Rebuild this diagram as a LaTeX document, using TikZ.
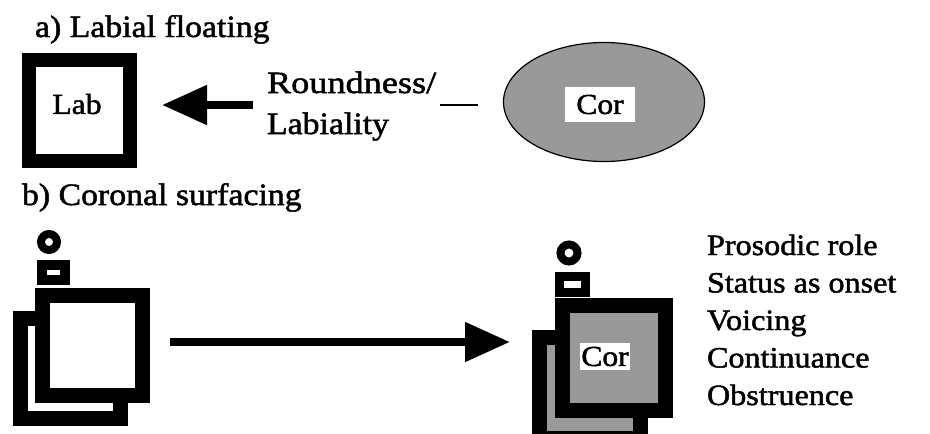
\documentclass[tikz,border=0pt]{standalone}
\usepackage{fontspec}
\setmainfont{Liberation Serif}[FakeStretch=1.09, FakeBold=1.6]
\newfontfamily\widefont{Liberation Serif}[FakeStretch=1.17, FakeBold=1.6]
\usetikzlibrary{arrows.meta,shapes.geometric}
\begin{document}
\begin{tikzpicture}[x=1pt,y=-1pt,
  font=\fontsize{31}{36}\selectfont,
  txt/.style={anchor=base west, inner sep=0pt, outer sep=0pt},
  listtxt/.style={txt, font=\fontsize{29.5}{36}\selectfont},
  lbl/.style={font=\fontsize{29}{36}\selectfont},
  thickbox/.style={draw, line width=15pt, minimum size=100pt, inner sep=0pt},
  stip/.style={fill=black!40},
  minibox/.style={draw, line width=9pt, fill=white, inner sep=0pt},
  ring/.style={circle, draw, line width=8pt, fill=white, minimum size=16pt, inner sep=0pt},
  arr/.style={line width=8pt, -{Triangle[length=45pt,width=38pt]}},
  whitelbl/.style={lbl, fill=white, inner sep=1pt}
]
\useasboundingbox (0,0) rectangle (930,434);

% ---------- a) ----------
\node[txt] (ta) at (35,37) {a) Labial floating};
\node[thickbox, line width=14pt, minimum size=101pt] (lab) at (79.5,110.5) {};
\node[lbl] (labt) at (77,104) {Lab};

\node[ellipse, draw, line width=1.2pt, stip, minimum width=201pt, minimum height=119pt] (ell) at (604,102) {};
\node[whitelbl, minimum width=70pt, minimum height=35pt] (cora) at (600,104.5) {Cor};

\node[txt, font=\widefont\fontsize{31}{36}\selectfont] (rnd) at (267,93) {Roundness/};
\node[txt] (labi) at (267,134) {Labiality};
\coordinate (us1) at (440,105);
\coordinate (us2) at (478,105);
\draw[line width=1.8pt] (us1) -- (us2);

\coordinate (a1) at (253,105);
\draw[arr, shorten >=25pt] (a1) -- (lab.east |- a1);

% ---------- b) ----------
\node[txt] (tb) at (22,205) {b) Coronal surfacing};

% left structure
\node[thickbox] (lback) at (70.5,368.5) {};
\node[thickbox, fill=white] (lfront) at (92.5,345) {};
\node[minibox, line width=10pt, minimum width=23pt, minimum height=15pt] (lmini) at (53.5,272.5) {};
\node[ring] (lring) at (49,242) {};

% right structure
\node[thickbox, stip, minimum size=101pt] (rback) at (590,388) {};
\node[thickbox, stip, minimum width=103pt, minimum height=105pt] (rfront) at (614,358) {};
\node[whitelbl, minimum width=46pt, minimum height=27pt] (corb) at (605,356.5) {Cor};
\node[minibox, minimum width=26pt, minimum height=16pt] (rmini) at (572.5,284.5) {};
\node[ring, minimum size=17pt] (rring) at (569,253) {};

% arrow b
\coordinate (b2) at (510,342);
\draw[arr, shorten <=20pt] (lfront.east |- b2) -- (b2);

% list
\node[listtxt] (l1) at (707,255) {Prosodic role};
\node[listtxt] (l2) at (707,292.5) {Status as onset};
\node[listtxt] (l3) at (707,330) {Voicing};
\node[listtxt] (l4) at (707,367.5) {Continuance};
\node[listtxt] (l5) at (707,405) {Obstruence};
\end{tikzpicture}
\end{document}
